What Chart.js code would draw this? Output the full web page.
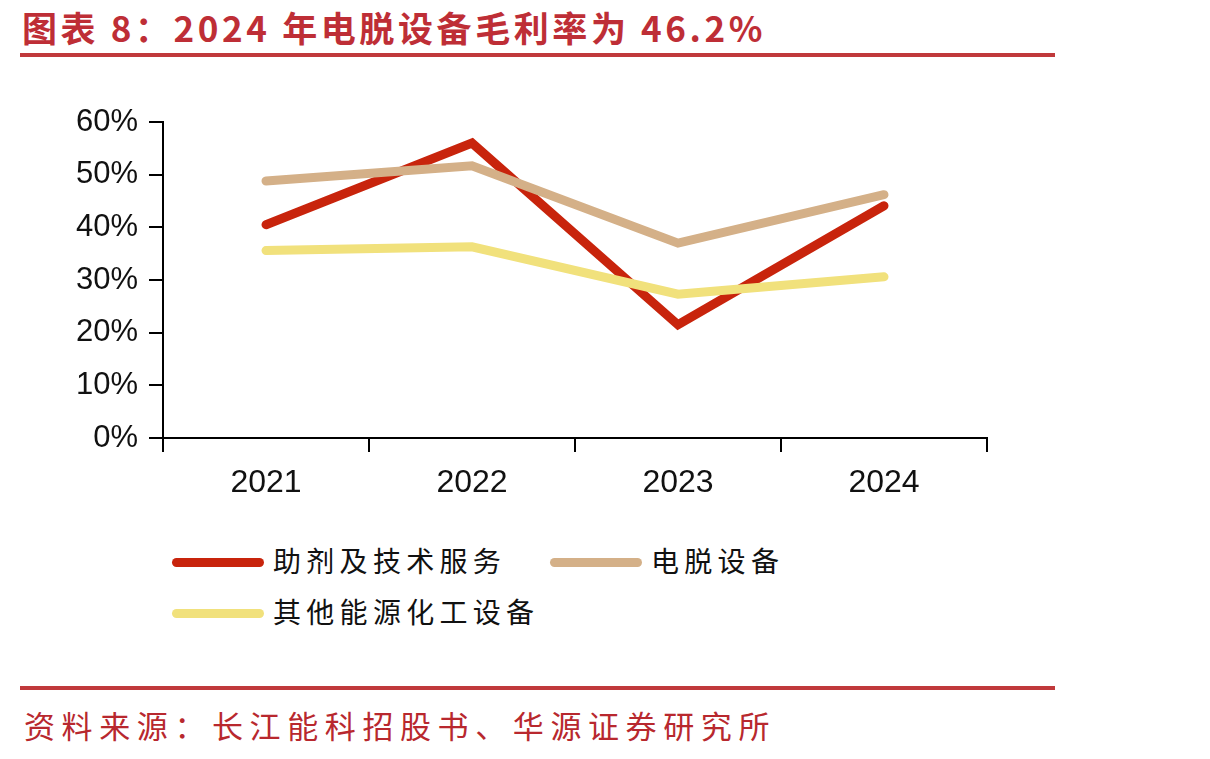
<!DOCTYPE html>
<html>
<head>
<meta charset="utf-8">
<script src="https://cdn.jsdelivr.net/npm/chart.js@4"></script>
<style>
  body { margin: 0; width: 1210px; height: 759px; background: #fff; position: relative; overflow: hidden; font-family: "Noto Sans CJK SC", sans-serif; }
  #titulo { position: absolute; left: 22px; top: 1px; font-size: 35px; font-weight: bold; color: #BE2E36; letter-spacing: 3.6px; white-space: nowrap; }
  .regla { position: absolute; left: 20px; width: 1035px; height: 4px; background: #C0393B; }
  #fuente { position: absolute; left: 24px; top: 702px; font-size: 31px; color: #B8282E; letter-spacing: 6.6px; white-space: nowrap; }
  #lienzo { position: absolute; left: 0; top: 0; }
  .ley { position: absolute; font-size: 28px; color: #111; letter-spacing: 5.3px; white-space: nowrap; line-height: 1; }
  .ley i { position: absolute; top: 12px; width: 92px; height: 9px; border-radius: 5px; }
  .ley span { position: absolute; left: 101px; top: 0; }
</style>
</head>
<body>
<div id="titulo">图表 8：2024 年电脱设备毛利率为 46.2%</div>
<div class="regla" style="top:53px"></div>
<canvas id="lienzo" width="1210" height="520"></canvas>
<div id="leyenda"></div>
<div class="regla" style="top:686px"></div>
<div id="fuente">资料来源：长江能科招股书、华源证券研究所</div>
<script>
// datos (%)
const años = ["2021", "2022", "2023", "2024"];
const nombres = ["助剂及技术服务", "电脱设备", "其他能源化工设备"];
const colores = ["#C8240C", "#D4B088", "#F1E17C"];
const auxiliares = [40.5, 56.0, 21.5, 44.1];
const electroDesal = [48.8, 51.7, 37.0, 46.2];
const otrosEquipos = [35.6, 36.3, 27.3, 30.6];
const series = [auxiliares, electroDesal, otrosEquipos];

// leyenda manual
const posLeyenda = [[172, 546], [550, 546], [172, 597]];
const ley = document.getElementById("leyenda");
nombres.forEach((n, i) => {
  const d = document.createElement("div");
  d.className = "ley";
  d.style.left = posLeyenda[i][0] + "px";
  d.style.top = posLeyenda[i][1] + "px";
  d.innerHTML = `<i style="background:${colores[i]}"></i><span>${n}</span>`;
  ley.appendChild(d);
});

const ctx = document.getElementById("lienzo").getContext("2d");
new Chart(ctx, {
  type: "line",
  data: {
    labels: años,
    datasets: series.map((s, i) => ({
      label: nombres[i],
      data: s,
      borderColor: colores[i],
      backgroundColor: colores[i],
      borderWidth: 9,
      borderCapStyle: "round",
      borderJoinStyle: "miter",
      pointRadius: 0,
      tension: 0,
      fill: false,
      order: 3 - i
    }))
  },
  options: {
    responsive: false,
    animation: false,
    layout: { padding: { top: 122, left: 0, right: 223, bottom: 0 } },
    plugins: { legend: { display: false }, tooltip: { enabled: false } },
    scales: {
      x: {
        offset: true,
        grid: { offset: true, drawOnChartArea: false, color: "#000", lineWidth: 2, tickLength: 14 },
        border: { color: "#000", width: 2 },
        ticks: { color: "#111", padding: 12, font: { family: "Liberation Sans, Arial", size: 32 } },
        afterFit: s => { s.height = 82; }
      },
      y: {
        min: 0, max: 60,
        grid: { drawOnChartArea: false, color: "#000", lineWidth: 2, tickLength: 14 },
        border: { color: "#000", width: 2 },
        ticks: { stepSize: 10, color: "#111", padding: 11, callback: v => v + "%", font: { family: "Liberation Sans, Arial", size: 31 } },
        afterFit: s => { s.width = 163; }
      }
    }
  }
});
</script>
</body>
</html>
